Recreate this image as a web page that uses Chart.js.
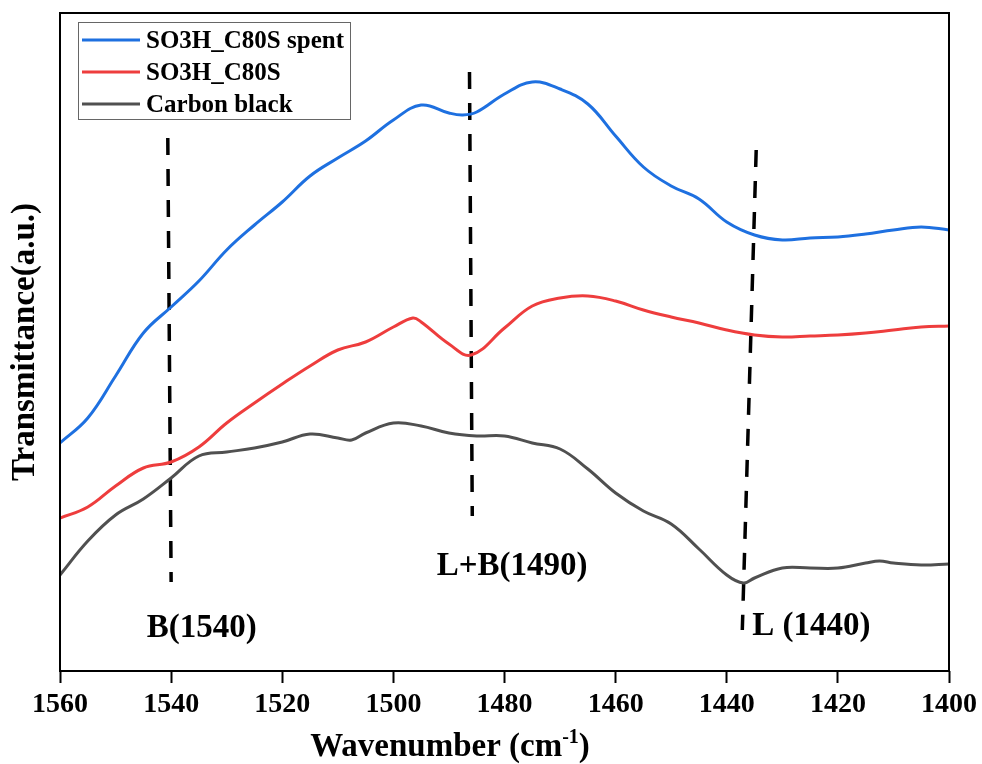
<!DOCTYPE html>
<html lang="en">
<head>
<meta charset="UTF-8">
<title>FTIR - pyridine adsorption</title>
<script src="https://cdn.jsdelivr.net/npm/chart.js"></script>
<style>
  body { margin: 0; background: #fff; }
  canvas { display: block; }
</style>
</head>
<body>
<canvas id="ftirChart" width="982" height="764"></canvas>
<script>
// x axis tick labels (wavenumber, axis runs high -> low)
const xTicks = [1560, 1540, 1520, 1500, 1480, 1460, 1440, 1420, 1400];

// SO3H_C80S spent
const spentX = [1560, 1555, 1550, 1545, 1540, 1535, 1530, 1525, 1520, 1515, 1510, 1505, 1500, 1495, 1490, 1487.5, 1485, 1480, 1475, 1470, 1465, 1460, 1455, 1450, 1445, 1440, 1435, 1430, 1425, 1420, 1415, 1410, 1405, 1400];
const spentY = [22.8, 25.3, 29.5, 33.8, 36.4, 39.0, 42.1, 44.6, 46.9, 49.5, 51.3, 53.0, 55.1, 56.6, 55.8, 55.6, 55.9, 57.7, 58.9, 58.2, 56.7, 53.5, 50.4, 48.5, 47.2, 44.9, 43.6, 43.1, 43.3, 43.4, 43.7, 44.1, 44.4, 44.1];

// SO3H_C80S
const freshX = [1560, 1555, 1550, 1545, 1540, 1535, 1530, 1525, 1520, 1515, 1510, 1505, 1500, 1496.5, 1495, 1490, 1486, 1480, 1475, 1470, 1465, 1460, 1455, 1450, 1445, 1440, 1435, 1430, 1425, 1420, 1415, 1410, 1405, 1400];
const freshY = [15.3, 16.4, 18.5, 20.3, 20.9, 22.4, 24.8, 26.8, 28.7, 30.5, 32.1, 32.9, 34.4, 35.3, 34.9, 32.7, 31.6, 34.3, 36.5, 37.3, 37.5, 37.0, 36.1, 35.4, 34.8, 34.1, 33.6, 33.4, 33.5, 33.6, 33.8, 34.1, 34.4, 34.5];

// Carbon black
const carbonX = [1560, 1555, 1550, 1545, 1540, 1535, 1530, 1525, 1520, 1515, 1510, 1507.5, 1505, 1500, 1495, 1490, 1485, 1480, 1475, 1470, 1465, 1460, 1455, 1450, 1445, 1440, 1437, 1435, 1430, 1425, 1420, 1415, 1412.5, 1410, 1405, 1400];
const carbonY = [9.6, 13.0, 15.6, 17.2, 19.3, 21.5, 21.9, 22.3, 22.9, 23.7, 23.3, 23.1, 23.8, 24.8, 24.5, 23.8, 23.5, 23.5, 22.8, 22.2, 20.2, 17.8, 16.0, 14.7, 12.2, 9.6, 8.8, 9.3, 10.3, 10.3, 10.3, 10.8, 11.0, 10.8, 10.6, 10.7];

// band markers (dashed guide lines) and their labels
const markerNames = ['B(1540)', 'L+B(1490)', 'L (1440)'];
const markerTopX = [1540.6, 1486.3, 1434.7];
const markerTopY = [53.3, 59.9, 52.1];
const markerBottomX = [1540.0, 1485.8, 1437.2];
const markerBottomY = [8.9, 15.5, 4.1];
const labelX = [1544.4, 1492.2, 1435.4];
const labelY = [3.4, 9.6, 3.6];

const FONT = '"Liberation Serif", "Times New Roman", serif';

function pts(xs, ys) {
    return xs.map((v, i) => ({ x: v, y: ys[i] }));
}

const series = [
    { label: 'SO3H_C80S spent', data: pts(spentX, spentY), borderColor: '#1E70E0' },
    { label: 'SO3H_C80S', data: pts(freshX, freshY), borderColor: '#EE3D3D' },
    { label: 'Carbon black', data: pts(carbonX, carbonY), borderColor: '#505050' }
];

const datasets = series.map(s => Object.assign({
    borderWidth: 3,
    pointRadius: 0,
    fill: false,
    tension: 0.4
}, s));

markerNames.forEach((name, i) => {
    datasets.push({
        label: name,
        data: [{ x: markerTopX[i], y: markerTopY[i] }, { x: markerBottomX[i], y: markerBottomY[i] }],
        borderColor: '#000',
        borderWidth: 3.5,
        borderDash: [17, 14],
        pointRadius: 0,
        tension: 0,
        fill: false
    });
});

// frame, in-plot legend, band labels and x title with superscript
const decorations = {
    id: 'decorations',
    afterDraw(chart) {
        const { ctx, chartArea: a, scales: { x, y } } = chart;
        ctx.save();

        ctx.lineWidth = 2;
        ctx.strokeStyle = '#000';
        ctx.strokeRect(a.left, a.top, a.right - a.left, a.bottom - a.top);

        // band labels
        ctx.fillStyle = '#000';
        ctx.textAlign = 'left';
        ctx.textBaseline = 'alphabetic';
        ctx.font = 'bold 33px ' + FONT;
        markerNames.forEach((t, i) => {
            ctx.fillText(t, x.getPixelForValue(labelX[i]), y.getPixelForValue(labelY[i]));
        });

        // legend box
        const bx = a.left + 18, by = a.top + 9;
        ctx.lineWidth = 1;
        ctx.strokeStyle = '#666';
        ctx.strokeRect(bx + 0.5, by + 0.5, 272, 97);
        ctx.font = 'bold 25px ' + FONT;
        series.forEach((s, i) => {
            const ly = by + 18 + i * 32;
            ctx.strokeStyle = s.borderColor;
            ctx.lineWidth = 3;
            ctx.beginPath();
            ctx.moveTo(bx + 4, ly);
            ctx.lineTo(bx + 62, ly);
            ctx.stroke();
            ctx.fillStyle = '#000';
            ctx.fillText(s.label, bx + 68, ly + 8);
        });

        // x axis title: Wavenumber (cm^-1)
        const main = 'bold 33px ' + FONT, sup = 'bold 20px ' + FONT;
        ctx.font = main;
        const w1 = ctx.measureText('Wavenumber (cm').width;
        const w3 = ctx.measureText(')').width;
        ctx.font = sup;
        const w2 = ctx.measureText('-1').width;
        let tx = 450 - (w1 + w2 + w3) / 2;
        const base = 756;
        ctx.font = main;
        ctx.fillText('Wavenumber (cm', tx, base);
        tx += w1;
        ctx.font = sup;
        ctx.fillText('-1', tx, base - 13);
        tx += w2;
        ctx.font = main;
        ctx.fillText(')', tx, base);

        ctx.restore();
    }
};

new Chart(document.getElementById('ftirChart'), {
    type: 'line',
    data: { datasets: datasets },
    options: {
        responsive: false,
        animation: false,
        layout: { padding: { top: 13, right: 32, left: 0, bottom: 0 } },
        plugins: {
            legend: { display: false },
            tooltip: { enabled: false }
        },
        scales: {
            x: {
                type: 'linear',
                reverse: true,
                min: 1400,
                max: 1560,
                afterBuildTicks: ax => { ax.ticks = xTicks.map(v => ({ value: v })); },
                afterFit: ax => { ax.height = 93; },
                border: { display: false },
                grid: { drawOnChartArea: false, tickLength: 12, tickWidth: 2, tickColor: '#000' },
                ticks: {
                    color: '#000',
                    padding: 5,
                    autoSkip: false,
                    maxRotation: 0,
                    callback: v => String(v),
                    font: { family: FONT, size: 28, weight: 'bold' }
                }
            },
            y: {
                min: 0,
                max: 65.8,
                afterFit: ax => { ax.width = 60; },
                border: { display: false },
                grid: { display: false },
                ticks: { display: false },
                title: {
                    display: true,
                    text: 'Transmittance(a.u.)',
                    color: '#000',
                    padding: { top: 6, bottom: 0 },
                    font: { family: FONT, size: 33, weight: 'bold' }
                }
            }
        }
    },
    plugins: [decorations]
});
</script>
</body>
</html>
